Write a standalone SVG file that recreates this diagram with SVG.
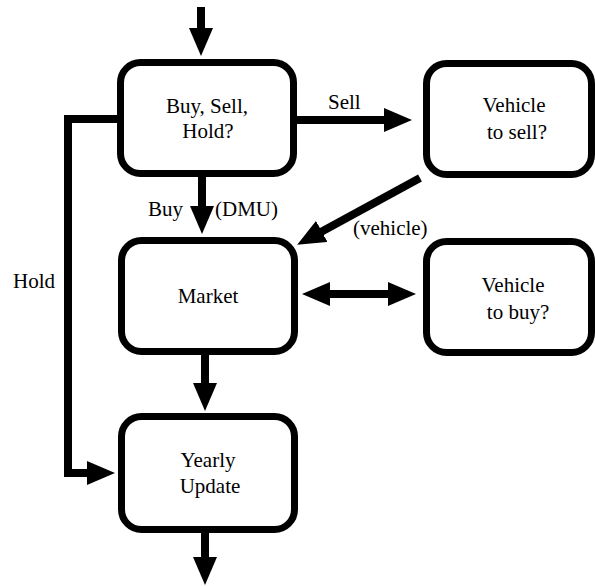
<svg xmlns="http://www.w3.org/2000/svg" width="595" height="586" viewBox="0 0 595 586" font-family="Liberation Serif, DejaVu Serif, serif">
<style>
.box{fill:#fff;stroke:#000;stroke-width:7}
.t{font-size:21px;fill:#000}
.c{text-anchor:middle}
.con{fill:none;stroke:#000;stroke-width:8}
</style>
<defs>
<marker id="ah" markerUnits="userSpaceOnUse" markerWidth="28" markerHeight="24" refX="2" refY="12" orient="auto-start-reverse" viewBox="0 0 28 24">
<path d="M0,0 L28,12 L0,24 Z" fill="#000"/>
</marker>
</defs>
<rect width="595" height="586" fill="#fff"/>
<g id="connectors">
<line class="con" x1="201" y1="7" x2="201" y2="30" marker-end="url(#ah)"/>
<line class="con" x1="297" y1="120" x2="386" y2="120" marker-end="url(#ah)"/>
<line class="con" x1="202" y1="177" x2="202" y2="208" marker-end="url(#ah)"/>
<line class="con" x1="420" y1="178" x2="320" y2="232.4" marker-end="url(#ah)"/>
<line class="con" x1="328" y1="294" x2="390" y2="294" marker-start="url(#ah)" marker-end="url(#ah)"/>
<line class="con" x1="205" y1="355" x2="205" y2="385" marker-end="url(#ah)"/>
<line class="con" x1="205" y1="533" x2="205" y2="559" marker-end="url(#ah)"/>
<polyline class="con" points="117,119 68,119 68,473 89,473" marker-end="url(#ah)"/>
<text class="t" x="328" y="109">Sell</text>
<text class="t" x="148" y="216">Buy</text>
<text class="t" x="215" y="216">(DMU)</text>
<text class="t" x="353" y="235">(vehicle)</text>
<text class="t" x="13" y="288">Hold</text>
</g>
<g id="decide">
<rect class="box" x="120.5" y="62.5" width="173" height="111" rx="20"/>
<text class="t c" x="207" y="113">Buy, Sell,</text>
<text class="t c" x="208" y="138">Hold?</text>
</g>
<g id="sell">
<rect class="box" x="426.5" y="63.5" width="165" height="111" rx="20"/>
<text class="t c" x="514" y="112">Vehicle</text>
<text class="t c" x="517" y="139">to sell?</text>
</g>
<g id="market">
<rect class="box" x="121.5" y="240.5" width="173" height="111" rx="20"/>
<text class="t c" x="208" y="303">Market</text>
</g>
<g id="buy">
<rect class="box" x="426.5" y="241.5" width="165" height="111" rx="20"/>
<text class="t c" x="513" y="292">Vehicle</text>
<text class="t c" x="518" y="319">to buy?</text>
</g>
<g id="update">
<rect class="box" x="121.5" y="416.5" width="173" height="113" rx="20"/>
<text class="t c" x="208" y="467">Yearly</text>
<text class="t c" x="210" y="493">Update</text>
</g>
</svg>
